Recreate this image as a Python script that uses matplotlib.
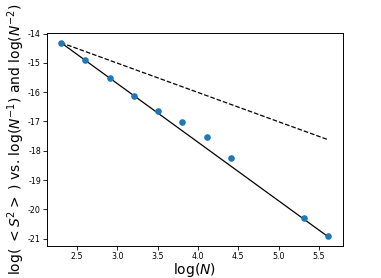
import numpy as np
import matplotlib.pyplot as plt
import matplotlib as mpl
mpl.rcParams['font.size'] = 5.7
mpl.rcParams['axes.unicode_minus'] = False

# system sizes N (log10) and measured log(<S^2>)
logN = [2.301, 2.602, 2.903, 3.204, 3.505, 3.806, 4.107, 4.408, 5.311, 5.612]
logS2 = [-14.31, -14.89, -15.51, -16.13, -16.64, -17.01, -17.54, -18.24, -20.29, -20.90]

x = np.array(logN)
y = np.array(logS2)

# reference slopes N^-1 and N^-2 anchored at the first point
ref1 = y[0] - 1.0 * (x - x[0])
ref2 = y[0] - 2.0 * (x - x[0])

fig = plt.figure(figsize=(3.81, 2.78), dpi=100)
ax = fig.add_axes([47/381, 32/278, 296/381, 213/278])

ax.scatter(x, y, s=14, color='#1f77b4', zorder=3)
ax.plot(x, ref1, 'k--', lw=0.9)
ax.plot(x, ref2, 'k-', lw=0.9)

ax.set_xlim(2.128, 5.798)
ax.set_ylim(-21.25, -13.98)
ax.set_xticks([2.5, 3.0, 3.5, 4.0, 4.5, 5.0, 5.5])
ax.set_yticks([-21, -20, -19, -18, -17, -16, -15, -14])
ax.tick_params(length=2.6, width=0.6, pad=1.8)
for s in ax.spines.values():
    s.set_linewidth(0.7)

ax.set_xlabel(r'log($N$)', fontsize=10, labelpad=0)
ax.set_ylabel(r'log( $<S^2>$ ) vs. log($N^{-1}$) and log($N^{-2}$)', fontsize=10, labelpad=1)

fig.savefig("out.png", dpi=100)
